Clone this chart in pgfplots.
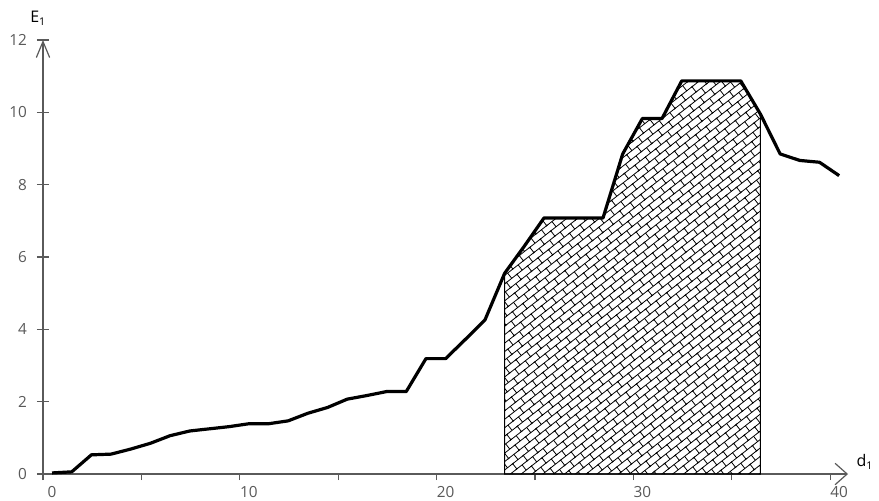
\documentclass[border=0pt]{standalone}
\usepackage{fontspec}
\setmainfont{Open Sans}
\usepackage{pgfplots}
\pgfplotsset{compat=1.18}
\usetikzlibrary{patterns.meta, arrows.meta}
\definecolor{lblgray}{RGB}{89,89,89}
\definecolor{axgray}{RGB}{90,90,90}

\tikzdeclarepattern{
  name=diagbrick,
  type=uncolored,
  bounding box={(-1pt,-1pt) and (11pt,11pt)},
  tile size={(10pt,10pt)},
  tile transformation={rotate=38},
  code={
    \draw[line width=0.6pt] (-1pt,0pt) -- (11pt,0pt) (-1pt,5pt) -- (11pt,5pt)
      (0pt,0pt) -- (0pt,5pt) (5pt,5pt) -- (5pt,10pt);
  }
}

\begin{document}
\begin{tikzpicture}
\begin{axis}[
  scale only axis,
  width=603.75pt, height=325.5pt,
  xmin=-0.46, xmax=40.45, ymin=0, ymax=12,
  axis lines=left,
  clip=false,
  x axis line style={draw=axgray, line width=0.9pt, -{Straight Barb[length=9pt,width=16pt]}},
  y axis line style={draw=axgray, line width=0.9pt, -{Straight Barb[length=12pt,width=10pt]}},
  tick align=center,
  major tick length=9pt,
  minor tick length=4.5pt,
  xtick={0,10,20,30,40},
  major x tick style={draw=none},
  minor xtick={-0.46,4.54,9.54,14.54,19.54,24.54,29.54,34.54,39.54},
  minor x tick style={yshift=-2.25pt, draw=axgray, line width=0.9pt},
  ytick={0,2,4,6,8,10,12},
  major y tick style={draw=axgray, line width=0.9pt},
  /pgf/number format/assume math mode=true,
  tick label style={font=\fontsize{11.5}{14}\selectfont, text=lblgray},
  yticklabel style={xshift=-4pt},
  xticklabel style={yshift=-1pt},
  xlabel={d\textsubscript{1}},
  ylabel={E\textsubscript{1}},
  xlabel style={at={(rel axis cs:1.021,0.0276)}, anchor=center, font=\fontsize{12}{14}\selectfont},
  ylabel style={at={(rel axis cs:-0.006,1.05)}, anchor=center, rotate=-90, font=\fontsize{12}{14}\selectfont},
]
\addplot[draw=black, line width=0.8pt, pattern=diagbrick, pattern color=black] coordinates {
(23,0) (23,5.55) (24,6.3) (25,7.08) (26,7.08) (27,7.08) (28,7.08) (29,8.85) (30,9.83) (31,9.83)
(32,10.87) (33,10.87) (34,10.87) (35,10.87) (36,9.95) (36,0)
} -- cycle;
\addplot[black, line width=2.4pt, line join=round] coordinates {
(0,0.03) (1,0.06) (2,0.53) (3,0.55) (4,0.69) (5,0.85) (6,1.06) (7,1.19) (8,1.25) (9,1.31)
(10,1.39) (11,1.39) (12,1.47) (13,1.68) (14,1.84) (15,2.07) (16,2.17) (17,2.28) (18,2.28) (19,3.19)
(20,3.19) (21,3.72) (22,4.26) (23,5.55) (24,6.3) (25,7.08) (26,7.08) (27,7.08) (28,7.08) (29,8.85)
(30,9.83) (31,9.83) (32,10.87) (33,10.87) (34,10.87) (35,10.87) (36,9.95) (37,8.85) (38,8.67) (39,8.62)
(40,8.25)
};
\coordinate (bl) at (rel axis cs:-0.0534,-0.0610);
\coordinate (tr) at (rel axis cs:1.0385,1.0922);
\end{axis}
\pgfresetboundingbox
\path (bl) rectangle (tr);
\end{tikzpicture}
\end{document}
